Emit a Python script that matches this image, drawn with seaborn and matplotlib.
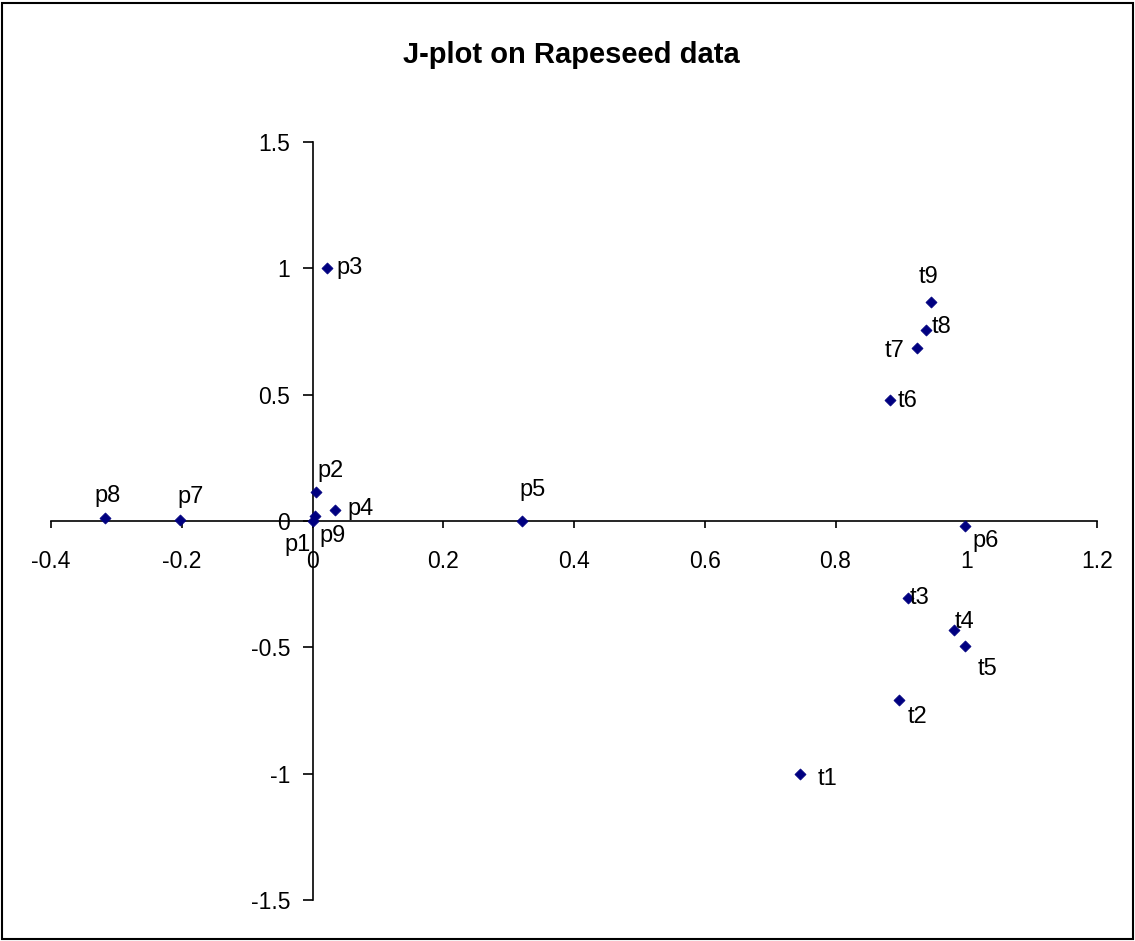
# -*- coding: utf-8 -*-
"""
J-plot on Rapeseed data: scatter of p / t loadings with axes through the origin
"""

import matplotlib
matplotlib.use('Agg')
import matplotlib.pyplot as plt
import pandas as pd
import seaborn as sns
from matplotlib.patches import Rectangle

# Data
labels = ['p1', 'p2', 'p3', 'p4', 'p5', 'p6', 'p7', 'p8', 'p9',
          't1', 't2', 't3', 't4', 't5', 't6', 't7', 't8', 't9']
x_vals = [0.0, 0.006, 0.022, 0.034, 0.320, 0.998, -0.202, -0.318, 0.004,
          0.746, 0.897, 0.911, 0.982, 0.998, 0.884, 0.924, 0.939, 0.946]
y_vals = [0.0, 0.115, 1.0, 0.044, 0.0, -0.020, 0.004, 0.010, 0.020,
          -1.0, -0.708, -0.303, -0.431, -0.493, 0.479, 0.685, 0.756, 0.867]

x_ticks = [-0.4, -0.2, 0, 0.2, 0.4, 0.6, 0.8, 1, 1.2]
x_tick_labels = ['-0.4', '-0.2', '0', '0.2', '0.4', '0.6', '0.8', '1', '1.2']
y_ticks = [-1.5, -1, -0.5, 0, 0.5, 1, 1.5]
y_tick_labels = ['-1.5', '-1', '-0.5', '0', '0.5', '1', '1.5']

# label placement (pixel offset, horizontal / vertical alignment)
label_pos = {
    'p1': (-2, -13, 'right', 'top'),
    'p2': (1, 10, 'left', 'bottom'),
    'p3': (10, 0, 'left', 'center'),
    'p4': (13, 1, 'left', 'center'),
    'p5': (-2, 20, 'left', 'bottom'),
    'p6': (7, -4, 'left', 'top'),
    'p7': (-3, 12, 'left', 'bottom'),
    'p8': (-10, 11, 'left', 'bottom'),
    'p9': (4, -9, 'left', 'top'),
    't1': (17, -5, 'left', 'center'),
    't2': (9, -17, 'left', 'center'),
    't3': (2, 0, 'left', 'center'),
    't4': (0, 8, 'left', 'center'),
    't5': (13, -23, 'left', 'center'),
    't6': (7, -1, 'left', 'center'),
    't7': (-12, -3, 'right', 'center'),
    't8': (5, 3, 'left', 'center'),
    't9': (-12, 14, 'left', 'bottom'),
}


def main():
    sns.set_style('white')
    plt.rcParams['font.family'] = ['Liberation Sans', 'DejaVu Sans']
    plt.rcParams['text.color'] = 'black'
    plt.rcParams['xtick.color'] = 'black'
    plt.rcParams['ytick.color'] = 'black'

    df = pd.DataFrame({'label': labels, 'x': x_vals, 'y': y_vals})

    fig = plt.figure(figsize=(11.35, 9.41), dpi=100)
    ax = fig.add_axes([51 / 1135, 1 - 900 / 941, (1097 - 51) / 1135, (900 - 142) / 941])

    sns.scatterplot(data=df, x='x', y='y', marker='D', s=32, color='#000080',
                    edgecolor='#000080', linewidth=0.5, ax=ax, zorder=3)

    for _, row in df.iterrows():
        dx, dy, ha, va = label_pos[row['label']]
        ax.annotate(row['label'], (row['x'], row['y']), xytext=(dx, dy),
                    textcoords='offset pixels', ha=ha, va=va, fontsize=17,
                    color='black')

    ax.set_xlim(-0.4, 1.2)
    ax.set_ylim(-1.5, 1.5)
    ax.set_xticks(x_ticks)
    ax.set_xticklabels(x_tick_labels)
    ax.set_yticks(y_ticks)
    ax.set_yticklabels(y_tick_labels)
    ax.set_xlabel('')
    ax.set_ylabel('')

    # axes through the origin, excel style
    ax.spines['left'].set_position(('data', 0))
    ax.spines['bottom'].set_position(('data', 0))
    ax.spines['right'].set_visible(False)
    ax.spines['top'].set_visible(False)
    for s in ['left', 'bottom']:
        ax.spines[s].set_color('black')
        ax.spines[s].set_linewidth(1.2)
    ax.tick_params(axis='x', direction='out', length=5, width=1.2, color='black',
                   labelsize=16.5, pad=16, bottom=True, labelcolor='black')
    ax.tick_params(axis='y', direction='out', length=7, width=1.2, color='black',
                   labelsize=16.5, pad=9, left=True, labelcolor='black')
    ax.patch.set_alpha(0)

    fig.text(0.503, 1 - 63 / 941, 'J-plot on Rapeseed data', ha='center',
             va='baseline', fontsize=21, fontweight='bold', color='black')

    # outer chart border
    fig.add_artist(Rectangle((0.002, 0.002), 0.996, 0.995, transform=fig.transFigure,
                             fill=False, edgecolor='black', linewidth=1.5))

    fig.savefig('out.png', dpi=100)


if __name__ == "__main__":
    main()
